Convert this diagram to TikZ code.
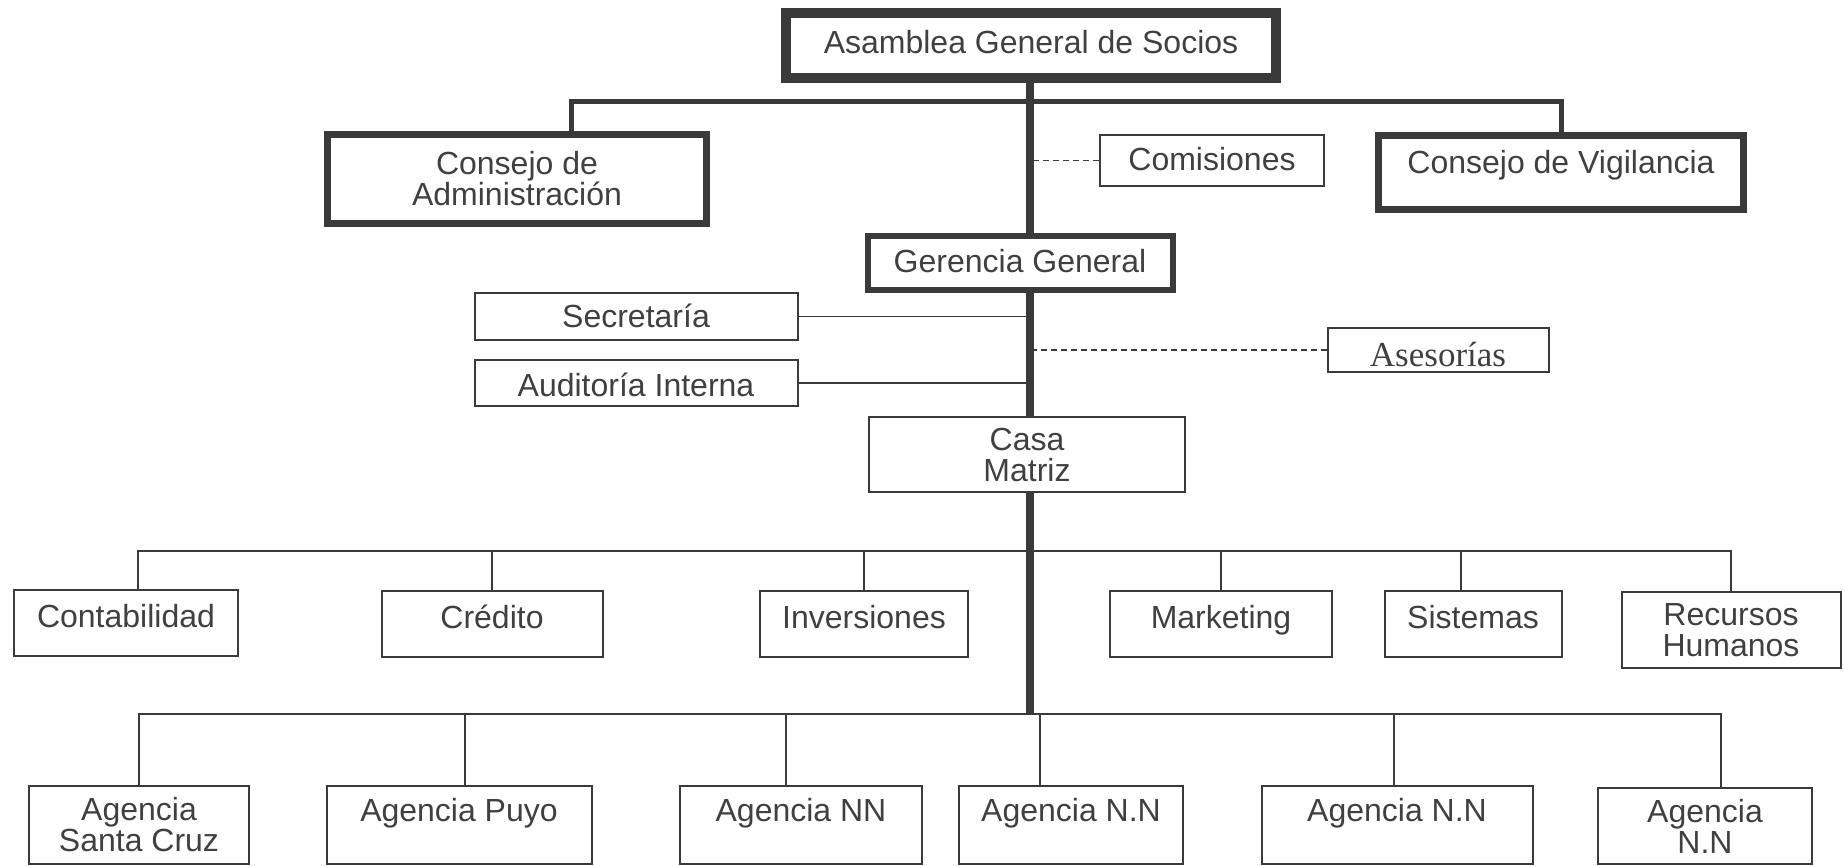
\documentclass[tikz,border=0pt]{standalone}
\usepackage{fontspec}
\setmainfont{Liberation Sans}
\newfontfamily\asesfont{Liberation Serif}
\usepackage{tikz}

\definecolor{tinta}{HTML}{3A3A3A}
\definecolor{texto}{HTML}{404040}

\begin{document}
\begin{tikzpicture}[x=0.5pt,y=-0.5pt,
	box/.style={draw=tinta,rectangle,line width=1pt,inner sep=0pt,anchor=north,
		text=texto,font=\fontsize{16}{15.5}\selectfont,align=center},
	organo/.style={box,line width=3.5pt},
	depto/.style={box,text height=18.5pt,text depth=14.5pt},
	agencia/.style={box,text height=17.5pt,text depth=21.5pt},
	linea/.style={draw=tinta,line width=0.9pt},
	enlace/.style={draw=tinta,line width=0.9pt,dash pattern=on 3pt off 2pt},
	bus/.style={draw=tinta,line width=2.5pt},
	tronco/.style={draw=tinta,line width=4pt}]
				\useasboundingbox (0,0) rectangle (1843,866);
				% direccion
				\node[box,line width=5pt,text height=20.5pt,text depth=12pt,minimum width=245pt] (asamblea) at (1031,8) {Asamblea General de Socios};
				\node[organo,minimum width=189.5pt,minimum height=44.5pt] (admin) at (517,131) {Consejo de\\Administración};
				\node[organo,text height=19.25pt,text depth=17.75pt,minimum width=182.5pt] (vigil) at (1561,132) {Consejo de Vigilancia};
				\node[box,text height=18pt,text depth=7.5pt,minimum width=112pt] (comis) at (1212,134) {Comisiones};
				\node[box,line width=3pt,text height=18.5pt,text depth=8.5pt,minimum width=152.5pt] (gerencia) at (1020,233) {Gerencia General};
				\node[box,text height=17.5pt,text depth=6pt,minimum width=161.5pt] (secret) at (636,292) {Secretaría};
				\node[box,text height=18pt,text depth=5pt,minimum width=161.5pt] (audit) at (636,359) {Auditoría Interna};
				\node[box,font=\asesfont\fontsize{17.5}{18}\selectfont,text height=19pt,text depth=3pt,minimum width=110.5pt] (asesor) at (1438,327) {Asesorías};
				\node[box,minimum width=158pt,minimum height=37.5pt] (casa) at (1027,416) {Casa\\Matriz};
				% departamentos
				\node[depto,minimum width=112pt] (conta) at (126,589) {Contabilidad};
				\node[depto,minimum width=110.5pt] (credito) at (492,590) {Crédito};
				\node[depto,minimum width=104pt] (inver) at (864,590) {Inversiones};
				\node[depto,minimum width=111pt] (market) at (1221,590) {Marketing};
				\node[depto,minimum width=88.5pt] (sistem) at (1473,590) {Sistemas};
				\node[box,minimum width=109.5pt,minimum height=38pt] (rrhh) at (1731,591) {Recursos\\Humanos};
				% agencias
				\node[box,minimum width=110pt,minimum height=39pt] (ag1) at (139,785) {Agencia\\Santa Cruz};
				\node[agencia,minimum width=132.5pt] (ag2) at (459,785) {Agencia Puyo};
				\node[agencia,minimum width=121pt] (ag3) at (801,785) {Agencia NN};
				\node[agencia,minimum width=112pt] (ag4) at (1071,785) {Agencia N.N};
				\node[agencia,minimum width=135.5pt] (ag5) at (1397,785) {Agencia N.N};
				\node[box,minimum width=107pt,minimum height=38pt] (ag6) at (1705,787) {Agencia\\N.N};
				\coordinate (barra) at (1030,102);
				\coordinate (dbar) at (1030,551);
				\coordinate (abar) at (1030,714);
				% lineas
				\draw[tronco] (asamblea.south -| barra) -- (gerencia.north -| barra)
					(gerencia.south -| barra) -- (casa.north -| barra)
					(casa.south -| barra) -- (abar);
				\draw[bus] ([xshift=27pt]admin.north) |- (barra) -| (vigil.north);
				\draw[enlace] (comis.west) -- (comis.west -| barra);
				\draw[enlace] (asesor.west) -- (asesor.west -| barra);
				\draw[linea] (secret.east) -- (secret.east -| barra);
				\draw[linea] (audit.east) -- (audit.east -| barra);
				\draw[linea] ([xshift=6pt]conta.north) |- (dbar) -| (rrhh.north);
				\foreach \d in {credito,inver,market}
					\draw[linea] (\d.north) -- (\d.north |- dbar);
				\draw[linea] ([xshift=-6pt]sistem.north) -- ([xshift=-6pt]sistem.north |- dbar);
				\draw[linea] (ag1.north) |- (abar) -| ([xshift=8pt]ag6.north);
				\foreach \a/\s in {ag2/3pt,ag3/-7.5pt,ag4/-15.5pt,ag5/-1.5pt}
					\draw[linea] ([xshift=\s]\a.north) -- ([xshift=\s]\a.north |- abar);
			\end{tikzpicture}
\end{document}
